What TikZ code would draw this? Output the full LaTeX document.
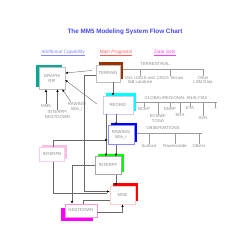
\documentclass[tikz,border=0pt]{standalone}
\usepackage{fontspec}
\setmainfont{Liberation Sans}
\usetikzlibrary{shadows,arrows.meta,calc}
\definecolor{txtgray}{RGB}{140,140,140}
\definecolor{lngray}{RGB}{105,105,105}
\definecolor{busgray}{RGB}{155,155,155}
\definecolor{ctitle}{RGB}{70,70,235}
\definecolor{cadd}{RGB}{130,130,255}
\definecolor{cmain}{RGB}{255,90,90}
\definecolor{cdata}{RGB}{255,60,255}
\definecolor{cteal}{RGB}{0,168,150}
\definecolor{cbrown}{RGB}{153,51,0}
\definecolor{ccyan}{RGB}{0,255,255}
\definecolor{cblue}{RGB}{0,0,255}
\definecolor{cgreen}{RGB}{0,255,0}
\definecolor{cred}{RGB}{255,0,0}
\definecolor{cmag}{RGB}{255,0,255}
\definecolor{cpink}{RGB}{250,190,225}
\begin{document}
\begin{tikzpicture}[x=1pt,y=-1pt,
  font=\fontsize{4.3}{4.9}\selectfont,
  prog/.style={draw=#1, fill=white, line width=0.4pt, text=txtgray, align=center, inner sep=0pt},
  sh/.style n args={3}{drop shadow={shadow xshift=#1pt,shadow yshift=#2pt,fill=#3,opacity=1}},
  lbl/.style={text=txtgray, align=center, inner sep=0pt},
  arr/.style={draw=lngray, line width=0.4pt, -{Latex[black,length=2.6pt,width=2.2pt]}},
  conn/.style={draw=lngray, line width=0.4pt},
  bus/.style={draw=busgray, line width=0.5pt}]
\useasboundingbox (0,0) rectangle (250,250);
% title and headers
\node[text=ctitle, font=\fontsize{6.3}{7}\selectfont\bfseries] (title) at (125,32) {The MM5 Modeling System Flow Chart};
\node[text=cadd, font=\fontsize{4.8}{5.5}\selectfont\itshape] (hadd) at (63,53) {\underline{Additional Capability}};
\node[text=cmain, font=\fontsize{4.8}{5.5}\selectfont\itshape] (hmain) at (116,53) {\underline{Main Programs}};
\node[text=cdata, font=\fontsize{4.8}{5.5}\selectfont\itshape] (hdata) at (165,53) {\underline{Data Sets}};
% program boxes
\node[prog=black!25, minimum width=26, minimum height=22, sh={-3}{2.5}{cteal}] (graph) at (52,78) {GRAPH/\\RIP};
\node[prog=black!25, minimum width=24, minimum height=17, sh={3.5}{3}{cbrown}] (terrain) at (108,73.5) {TERRAIN};
\node[prog=blue!20, minimum width=30, minimum height=18, sh={3}{3}{ccyan}] (regrid) at (118,105) {REGRID};
\node[prog=blue!45, minimum width=26, minimum height=19, sh={3}{3}{cblue}] (rawins) at (121,135) {RAWINS/\\little\_r};
\node[prog=black!35, minimum width=26, minimum height=18, sh={3}{3}{cgreen}] (interpf) at (108,165.5) {INTERPF};
\node[prog=red!20, minimum width=25, minimum height=18, sh={3}{3}{cred}] (mm5) at (122.5,195) {MM5};
\node[prog=magenta!40, minimum width=32, minimum height=13, sh={-4}{-4}{cmag}] (nestdown) at (81,210.5) {NESTDOWN};
\node[prog=magenta!20, minimum width=25, minimum height=14, sh={3}{2.5}{cpink}] (interpb) at (52,154.5) {INTERPB};
% inputs to graph
\node[lbl] (lmm5) at (46,106) {MM5};
\node[lbl] (linterp) at (57.5,114.5) {INTERPF/\\NESTDOWN};
\node[lbl] (lrawins) at (77,106.5) {RAWINS/\\little\_r};
\draw[arr] (lmm5.north) -- (lmm5.north |- graph.south);
\draw[arr] (linterp.north) -- (linterp.north |- graph.south);
\draw[arr] ($(lrawins.north)+(-6,0)$) -- ($(graph.south east)+(-3,0)$);
% main flow
\draw[arr] ($(terrain.west)+(-4,-3)$) -- ($(graph.east)+(0,-5)$);
\draw[arr] ($(regrid.west)+(-6,-1)$) -- ($(graph.east)+(0,2)$);
\draw[conn] ($(interpb.south)+(1,0)$) |- ($(mm5.west)+(-3,-2)$);
\draw[arr] ($(terrain.west)+(0,2)$) -- ++(-12,0) |- ($(mm5.west)+(0,-3.5)$);
\draw[arr] ($(terrain.south)+(5,0)$) -- ($(regrid.north)+(-5,0)$);
\draw[arr] ($(regrid.south)+(-2,0)$) -- ($(rawins.north)+(-5,0)$);
\draw[arr] ($(rawins.south)+(-5,0)$) -- ($(interpf.north)+(8,0)$);
\draw[arr] ($(interpf.south)+(8,0)$) -- ($(mm5.north)+(-6.5,0)$);
\draw[arr] ($(regrid.south)+(-12,0)$) -- ($(interpf.north)+(-2,0)$);
\draw[arr] ($(interpb.north)+(1,0)$) |- ($(rawins.west)+(0,5)$);
\draw[arr] (interpf.west) -| ($(nestdown.north)+(-9,0)$);
\draw[conn] ($(nestdown.north)+(2,0)$) |- ($(mm5.west)+(0,5)$);
\draw[arr] ($(nestdown.east)+(0,1.5)$) -| (mm5.south);
% terrestrial data
\node[lbl] (lterr) at (155,64) {TERRESTRIAL};
\coordinate (tbusL) at ($(terrain.east)+(3,-4.5)$);
\coordinate (tbusR) at (203,69);
\draw[bus] (tbusL) -- (tbusR);
\node[lbl] (lold) at (140,80) {Old, USGS and\\SiB Landuse};
\node[lbl] (lusgs) at (170,78) {USGS Terrain};
\node[lbl] (llsm) at (203,80) {Other\\LSM Data};
\foreach \n in {lold,lusgs,llsm} \draw[bus] (\n.north |- tbusL) -- (\n.north);
% global analysis
\node[lbl] (lglob) at (176,97.5) {GLOBAL/REGIONAL ANALYSIS};
\coordinate (gbusL) at ($(regrid.east)+(3,-3)$);
\coordinate (gbusR) at (217,102);
\draw[bus] (gbusL) -- (gbusR);
\node[lbl] (lncep) at (144,109) {NCEP};
\node[lbl] (lecm) at (158,118.5) {ECMWF\\TOGA};
\node[lbl] (lnnrp) at (170,109) {NNRP};
\node[lbl] (lera) at (180,115) {ERA};
\node[lbl] (leta) at (190,108.5) {ETA};
\node[lbl] (lavn) at (203,118) {AVN};
\node[lbl] (ldots) at (215,109) {......};
\foreach \n in {lncep,lecm,lnnrp,lera,leta,lavn,ldots} \draw[bus] (\n.north |- gbusL) -- (\n.north);
% observations
\node[lbl] (lobs) at (163,128.5) {OBSERVATIONS};
\coordinate (obusL) at ($(rawins.east)+(3,-2)$);
\coordinate (obusR) at (202,133);
\draw[bus] (obusL) -- (obusR);
\node[lbl] (lsurf) at (149,146) {Surface};
\node[lbl] (lraw) at (175,145.5) {Rawinsonde};
\node[lbl] (loth) at (199,145.5) {Others};
\foreach \n in {lsurf,lraw,loth} \draw[bus] (\n.north |- obusL) -- (\n.north);
\end{tikzpicture}
\end{document}
